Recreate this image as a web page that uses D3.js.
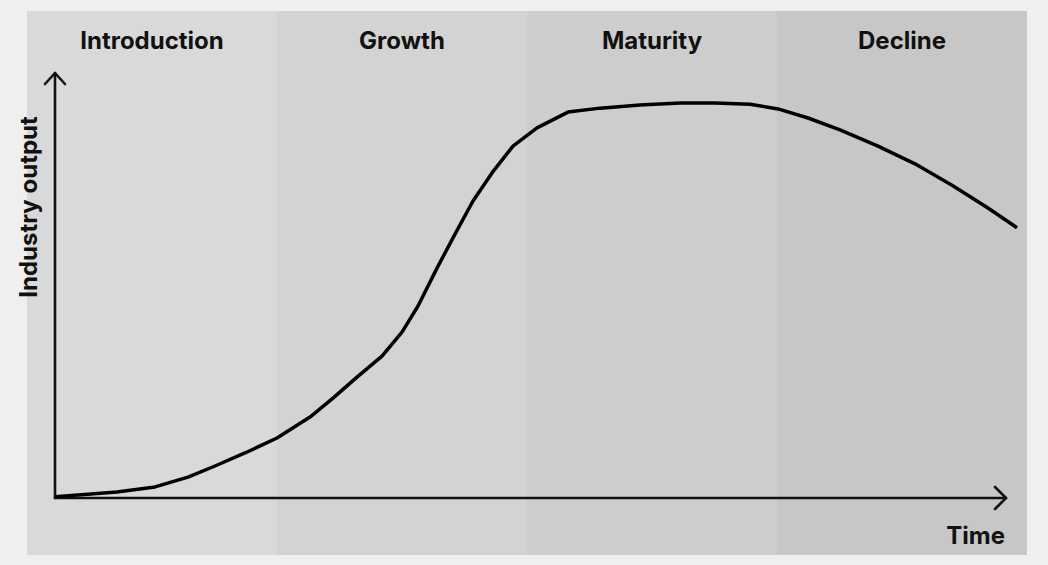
<!DOCTYPE html>
<html><head><meta charset="utf-8">
<script src="https://cdn.jsdelivr.net/npm/d3@7"></script>
<style>body{margin:0;background:#efefef}svg{display:block}text{font-family:Inter,"Noto Sans",sans-serif;font-weight:700;fill:#111}</style>
</head><body>
<svg id="c" width="1048" height="565"></svg>
<script>
const stages = ["Introduction","Growth","Maturity","Decline"];
const stageColors = ["#d9d9d9","#d3d3d3","#cdcdcd","#c7c7c7"];
// time in stage units (0..4), output 0..100
const times = [0.112,0.36,0.512,0.644,0.752,0.872,1.0,1.132,1.224,1.32,1.42,1.5,1.564,1.64,1.712,1.784,1.86,1.944,2.04,2.164,2.292,2.452,2.612,2.752,2.892,3.004,3.124,3.252,3.404,3.552,3.7,3.844,3.96];
const output = [0.3,1.5,2.8,5.3,8.1,11.4,15.2,20.5,25.3,30.6,35.9,42.0,48.6,58.2,66.8,75.2,82.3,89.1,93.7,97.7,98.7,99.5,100,100,99.7,98.5,96.2,93.2,89.1,84.6,79.2,73.4,68.4];
const xLabel = "Time", yLabel = "Industry output";

const svg = d3.select("#c");
const x = d3.scaleLinear().domain([0,4]).range([27,1027]);
const y = d3.scaleLinear().domain([0,100]).range([498,103]);
const plotTop = 11, plotBottom = 555;

svg.selectAll("rect.band").data(stages).join("rect")
  .attr("x",(d,i)=>x(i)).attr("y",plotTop).attr("width",(d,i)=>x(i+1)-x(i)).attr("height",plotBottom-plotTop)
  .attr("fill",(d,i)=>stageColors[i]);
svg.selectAll("text.band").data(stages).join("text")
  .attr("x",(d,i)=>x(i+0.5)).attr("y",49).attr("text-anchor","middle")
  .attr("font-size",24).text(d=>d);

const x0 = x(times[0]), y0 = y(0);
const g = svg.append("g").attr("stroke","#111").attr("stroke-width",2.6).attr("fill","none").attr("stroke-linecap","round").attr("stroke-linejoin","round");
g.append("line").attr("x1",x0).attr("y1",y0).attr("x2",x0).attr("y2",73);
g.append("path").attr("d",`M${x0-10},${84}L${x0},${73}L${x0+10},${84}`);
g.append("line").attr("x1",x0).attr("y1",y0).attr("x2",1006).attr("y2",y0);
g.append("path").attr("d",`M${995},${y0-11}L${1006},${y0}L${995},${y0+11}`);

svg.append("text").attr("x",1005).attr("y",544).attr("text-anchor","end").attr("font-size",24).text(xLabel);
svg.append("text").attr("transform","translate(37,207) rotate(-90)").attr("text-anchor","middle").attr("font-size",24).text(yLabel);

const line = d3.line().x((d,i)=>x(times[i])).y(d=>y(d));
svg.append("path").datum(output).attr("d",line).attr("fill","none").attr("stroke","#000").attr("stroke-width",3.5).attr("stroke-linejoin","round");
</script>
</body></html>
